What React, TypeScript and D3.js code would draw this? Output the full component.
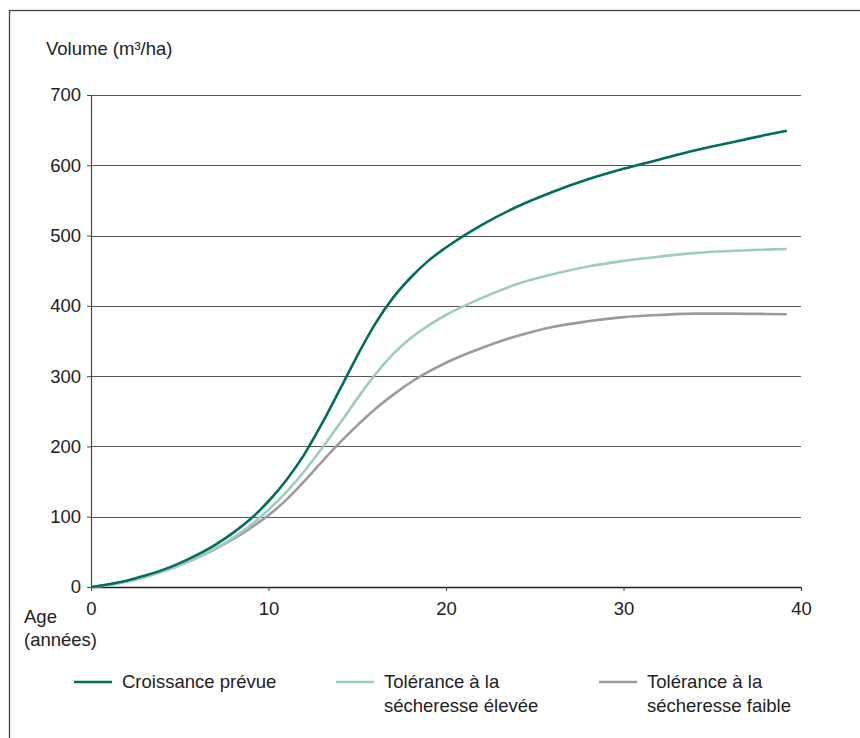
import React, { useRef, useEffect } from "react";
import * as d3 from "d3";

// age (années)
const years = [0, 1, 2, 3, 4, 5, 6, 7, 8, 9, 10, 11, 12, 13, 14, 15, 16, 17, 18, 19, 20, 22, 24, 26, 28, 30, 32, 34, 36, 38, 39.2];

// volume (m³/ha)
const croissancePrevue = [0, 4, 9, 16, 24, 34, 46, 60, 77, 97, 122, 152, 188, 232, 280, 329, 374, 411, 440, 464, 483, 515, 541, 562, 580, 595, 608, 621, 632, 643, 649];
const toleranceElevee = [0, 3, 8, 14, 22, 31, 42, 55, 70, 88, 110, 135, 164, 197, 232, 268, 302, 331, 354, 372, 387, 411, 431, 445, 456, 464, 470, 475, 478, 480, 481];
const toleranceFaible = [0, 3, 8, 14, 22, 31, 42, 54, 68, 84, 102, 124, 150, 178, 205, 230, 253, 273, 291, 306, 319, 340, 357, 370, 378, 384, 387, 389, 389, 388.5, 388];

const yTicks = [0, 100, 200, 300, 400, 500, 600, 700];
const xTicks = [0, 10, 20, 30, 40];

const series = [
    { name: ["Croissance prévue"], values: croissancePrevue, color: "#006e5f" },
    { name: ["Tolérance à la", "sécheresse élevée"], values: toleranceElevee, color: "#9ecbc2" },
    { name: ["Tolérance à la", "sécheresse faible"], values: toleranceFaible, color: "#9b9a9d" },
];

const W = 860;
const H = 738;
const FONT = "'Liberation Sans', Arial, sans-serif";
const FS = 18.5;

const App: React.FC = () => {
    const ref = useRef<SVGSVGElement | null>(null);

    useEffect(() => {
        if (!ref.current) return;
        const svg = d3.select(ref.current);
        svg.selectAll("*").remove();

        const margin = { top: 95, right: 59, bottom: 151, left: 91 };

        const x = d3.scaleLinear().domain([0, 40]).range([margin.left, W - margin.right]);
        const y = d3.scaleLinear().domain([0, 700]).range([H - margin.bottom, margin.top]);

        // cadre
        svg.append("rect")
            .attr("x", 9.5).attr("y", 10.5)
            .attr("width", W + 20).attr("height", H + 20)
            .attr("fill", "none").attr("stroke", "#444").attr("stroke-width", 1.3);

        // grille
        svg.append("g")
            .selectAll("line")
            .data(yTicks.filter(d => d > 0))
            .enter()
            .append("line")
            .attr("x1", x(0)).attr("x2", x(40))
            .attr("y1", d => Math.round(y(d)) + 0.5)
            .attr("y2", d => Math.round(y(d)) + 0.5)
            .attr("stroke", "#555").attr("stroke-width", 1);

        // axe y
        const yAxis = svg.append("g")
            .attr("transform", `translate(${x(0)},0)`)
            .call(d3.axisLeft(y).tickValues(yTicks).tickSize(4).tickPadding(6));
        yAxis.select(".domain").attr("stroke", "#444").attr("stroke-width", 1.2);
        yAxis.selectAll(".tick line").attr("stroke", "#444");
        yAxis.selectAll(".tick text")
            .attr("font-family", FONT).attr("font-size", FS).attr("fill", "#222");

        // axe x
        const xAxis = svg.append("g")
            .attr("transform", `translate(0,${y(0)})`)
            .call(d3.axisBottom(x).tickValues(xTicks).tickSize(4).tickPadding(11).tickSizeOuter(0));
        xAxis.select(".domain").attr("stroke", "#222").attr("stroke-width", 1.5);
        xAxis.selectAll(".tick line").attr("stroke", "#444");
        xAxis.selectAll(".tick text")
            .attr("font-family", FONT).attr("font-size", FS).attr("fill", "#222");

        // courbes
        const line = d3.line<number>()
            .x((_, i) => x(years[i]))
            .y(d => y(d))
            .curve(d3.curveMonotoneX);

        [...series].reverse().forEach(s => {
            svg.append("path")
                .datum(s.values)
                .attr("fill", "none")
                .attr("stroke", s.color)
                .attr("stroke-width", 2.6)
                .attr("d", line as any);
        });

        // titres
        svg.append("text")
            .attr("x", 46).attr("y", 55)
            .attr("font-family", FONT).attr("font-size", FS).attr("fill", "#222")
            .text("Volume (m³/ha)");

        const age = svg.append("text")
            .attr("font-family", FONT).attr("font-size", FS).attr("fill", "#222");
        age.append("tspan").attr("x", 24).attr("y", 623).text("Age");
        age.append("tspan").attr("x", 24).attr("y", 646).text("(années)");

        // légende
        const legendX = [74, 336, 599];
        series.forEach((s, i) => {
            const g = svg.append("g").attr("transform", `translate(${legendX[i]},682)`);
            g.append("line")
                .attr("x1", 0).attr("x2", 38)
                .attr("stroke", s.color).attr("stroke-width", 2.6);
            const t = g.append("text")
                .attr("font-family", FONT).attr("font-size", FS).attr("fill", "#222");
            s.name.forEach((n, j) => {
                t.append("tspan").attr("x", 48).attr("y", 6 + j * 24).text(n);
            });
        });
    }, []);

    return (
        <svg
            ref={ref}
            width={W}
            height={H}
            style={{ position: "absolute", left: 0, top: 0, background: "#fff" }}
        />
    );
};

export default App;
